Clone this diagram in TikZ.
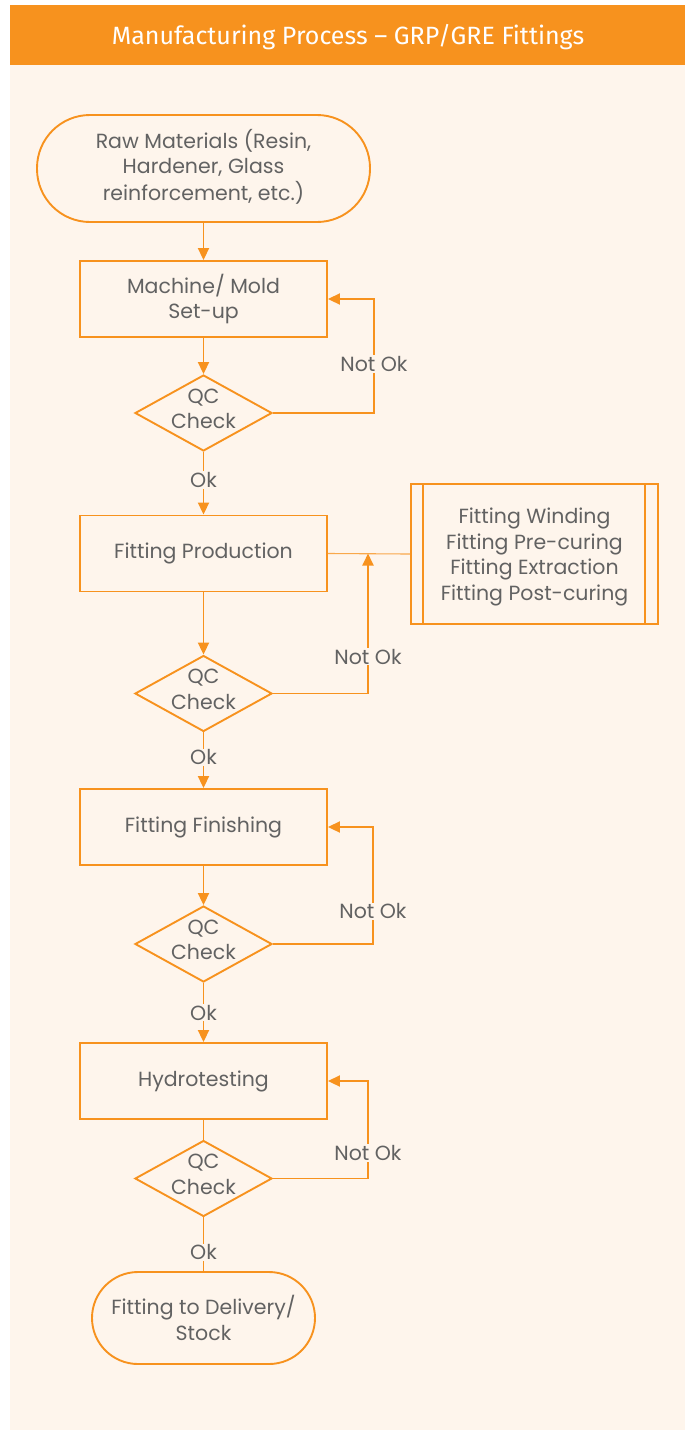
\documentclass[tikz,border=0pt]{standalone}
\usepackage{fontspec}
\setmainfont{Poppins}
\newfontfamily\headfont{Fira Sans}
\usepackage{tikz}
\usetikzlibrary{arrows.meta,shapes.geometric,positioning}

\definecolor{procorange}{RGB}{247,146,30}
\definecolor{proccream}{RGB}{254,245,236}
\definecolor{proctext}{RGB}{98,98,98}

\begin{document}
\begin{tikzpicture}[x=1pt,y=-1pt,
	font=\fontsize{20.5}{25.5}\selectfont,
	procline/.style={draw=procorange,line width=1.9pt},
	flow/.style={procline,-{Triangle[length=12pt,width=11pt]}},
	procbox/.style={procline,rectangle,minimum width=247pt,minimum height=76pt,align=center,inner sep=0pt,text=proctext},
	terminal/.style={procline,rectangle,align=center,inner sep=0pt,text=proctext},
	qcdiamond/.style={procline,diamond,minimum width=137pt,minimum height=76pt,inner sep=0pt,
		label={[align=center,text=proctext,yshift=4pt]center:QC\\Check}},
	flowlabel/.style={fill=proccream,inner sep=1pt,text=proctext}
]

\useasboundingbox (0,0) rectangle (692,1430);
\fill[white] (0,0) rectangle (692,1430);
\fill[proccream] (10,65) rectangle (685,1430); % panel
\fill[procorange] (10,5) rectangle (685,65); % header bar
\node[text=white,font=\headfont\fontsize{25}{28}\selectfont] (title) at (348,37) {Manufacturing Process \textendash{} GRP/GRE Fittings};

% Main chain of steps
\node[terminal,minimum width=333pt,minimum height=107pt,rounded corners=53pt] (raw) at (203.5,168.5) {\raisebox{3pt}{\begin{tabular}{@{}c@{}}Raw Materials (Resin,\\Hardener, Glass\\reinforcement, etc.)\end{tabular}}};
\node[procbox] (setup) at (203.5,299) {Machine/ Mold\\Set-up};
\node[qcdiamond] (qc1) at (203.5,413) {};
\node[procbox] (prod) at (203.5,553.5) {Fitting Production};
\node[qcdiamond] (qc2) at (203.5,693.5) {};
\node[procbox] (finish) at (203.5,827) {Fitting Finishing};
\node[qcdiamond] (qc3) at (203.5,944) {};
\node[procbox] (hydro) at (203.5,1081) {Hydrotesting};
\node[qcdiamond] (qc4) at (203.5,1178.5) {};
\node[terminal,minimum width=223pt,minimum height=92pt,rounded corners=46pt] (delivery) at (203.5,1318) {Fitting to Delivery/\\Stock};

% Sub-steps of the production
\node[procbox,minimum width=247pt,minimum height=140pt] (steps) at (534.5,554) {};
\node[align=center,text=proctext] (stepstext) at (534.5,557) {Fitting Winding\\Fitting Pre-curing\\Fitting Extraction\\Fitting Post-curing};
\draw[procline] ([xshift=13pt]steps.north west) -- ([xshift=13pt]steps.south west);
\draw[procline] ([xshift=-14pt]steps.north east) -- ([xshift=-14pt]steps.south east);
\draw[draw=procorange!80,line width=1.1pt] (prod.east) -- (steps.west);
\coordinate (prodjoin) at (368,553.5);

% Forward flow
\draw[flow] (raw) -- (setup);
\draw[flow] (setup) -- (qc1);
\draw[flow] (qc1) -- node[flowlabel,pos=0.45]{Ok} (prod);
\draw[flow] (prod) -- (qc2);
\draw[flow] (qc2) -- node[flowlabel,pos=0.45]{Ok} (finish);
\draw[flow] (finish) -- (qc3);
\draw[flow] (qc3) -- node[flowlabel,pos=0.5]{Ok} (hydro);
\draw[procline] (hydro) -- (qc4);
\draw[procline] (qc4) -- node[flowlabel,pos=0.65]{Ok} (delivery);

% Rework loops
\draw[flow] (qc1.east) -- ++(101,0) |- node[flowlabel,pos=0.215]{Not Ok} (setup.east);
\draw[flow] (qc2.east) -| node[flowlabel,pos=0.632]{Not Ok} (prodjoin);
\draw[flow] (qc3.east) -- ++(100,0) |- node[flowlabel,pos=0.14]{Not Ok} (finish.east);
\draw[flow] (qc4.east) -- ++(95,0) |- node[flowlabel,pos=0.13]{Not Ok} (hydro.east);
\end{tikzpicture}
\end{document}
